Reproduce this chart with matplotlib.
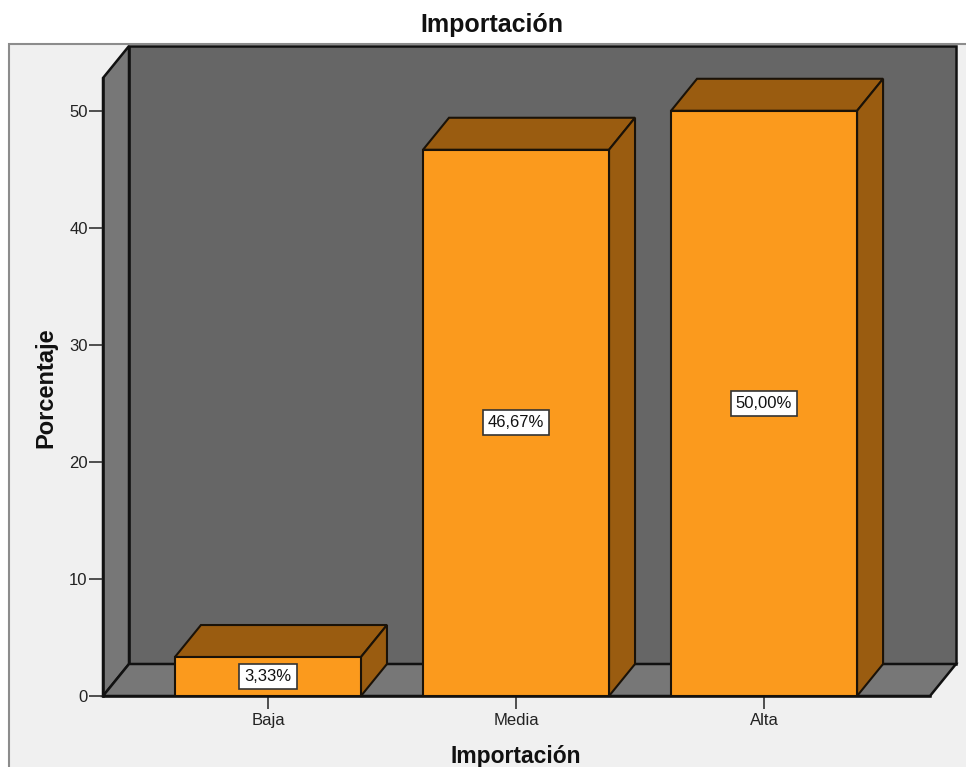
import matplotlib
matplotlib.use("Agg")
import matplotlib.pyplot as plt
from matplotlib.patches import Rectangle

categories = ["Baja", "Media", "Alta"]
values = [3.33, 46.67, 50.00]
value_labels = ["3,33%", "46,67%", "50,00%"]
y_ticks = [0, 10, 20, 30, 40, 50]

W, H = 966, 767
BAR_W = 0.75
# depth of the fake 3D box, in data units
DX = 26 / 248
DY = 32 / 11.7
X0, X1 = -0.665, 2.669
Y_TOP = 52.8

plt.rcParams["font.family"] = ["Liberation Sans", "DejaVu Sans"]

fig = plt.figure(figsize=(W / 100, H / 100), dpi=100, facecolor="white")

# grey chart panel behind everything
fig.add_artist(Rectangle((9 / W, -0.1), 1.1, 0.1 + (H - 44) / H, transform=fig.transFigure,
                         facecolor="#f0f0f0", edgecolor="#8c8c8c", linewidth=1.5, zorder=-1))

ax = fig.add_axes([103 / W, (H - 696) / H, (956 - 103) / W, (696 - 46) / H])
ax.set_xlim(X0, X1 + DX)
ax.set_ylim(0, Y_TOP + DY)
ax.patch.set_visible(False)

# back wall, side wall, floor
ax.fill([X0 + DX, X1 + DX, X1 + DX, X0 + DX], [DY, DY, Y_TOP + DY, Y_TOP + DY],
        facecolor="#666666", edgecolor="#111111", linewidth=1.8, clip_on=False, zorder=1)
ax.fill([X0, X0 + DX, X0 + DX, X0], [0, DY, Y_TOP + DY, Y_TOP],
        facecolor="#777777", edgecolor="#111111", linewidth=1.8, clip_on=False, zorder=1)
ax.fill([X0, X1, X1 + DX, X0 + DX], [0, 0, DY, DY],
        facecolor="#777777", edgecolor="#111111", linewidth=1.8, clip_on=False, zorder=1)

# bars
for i, v in enumerate(values):
    left, right = i - BAR_W / 2, i + BAR_W / 2
    ax.fill([left, left + DX, right + DX, right], [v, v + DY, v + DY, v],
            facecolor="#9a5c10", edgecolor="#1a1208", linewidth=1.5, zorder=3)
    ax.fill([right, right + DX, right + DX, right], [0, DY, v + DY, v],
            facecolor="#9a5c10", edgecolor="#1a1208", linewidth=1.5, zorder=3)
ax.bar(range(len(values)), values, width=BAR_W, color="#fb9a1d", edgecolor="#1a1208",
       linewidth=1.5, zorder=4)

for i, v in enumerate(values):
    ax.text(i, v / 2, value_labels[i], ha="center", va="center", fontsize=12, color="#111111",
            zorder=5, bbox=dict(boxstyle="square,pad=0.3", facecolor="white",
                                edgecolor="#333333", linewidth=1.2))

for s in ["top", "right"]:
    ax.spines[s].set_visible(False)
ax.spines["left"].set_bounds(0, Y_TOP)
ax.spines["bottom"].set_bounds(X0, X1)
for s in ["left", "bottom"]:
    ax.spines[s].set_linewidth(1.8)
    ax.spines[s].set_color("#111111")
    ax.spines[s].set_zorder(2)

ax.set_yticks(y_ticks)
ax.set_xticks(range(len(categories)))
ax.set_xticklabels(categories)
ax.tick_params(axis="y", length=10, width=1.2, color="#333333", labelsize=12, labelcolor="#222222", pad=1)
ax.tick_params(axis="x", length=9, width=1.2, color="#333333", labelsize=12, labelcolor="#222222", pad=3)

fig.text(492 / W, 1 - 25 / H, "Importación", ha="center", va="center", fontsize=18,
         fontweight="bold", color="#111111")
fig.text(516 / W, 1 - 756 / H, "Importación", ha="center", va="center", fontsize=16.5,
         fontweight="bold", color="#111111")
fig.text(46 / W, 1 - 388 / H, "Porcentaje", ha="center", va="center", rotation=90, fontsize=17,
         fontweight="bold", color="#111111")

fig.savefig("out.png", dpi=100)
